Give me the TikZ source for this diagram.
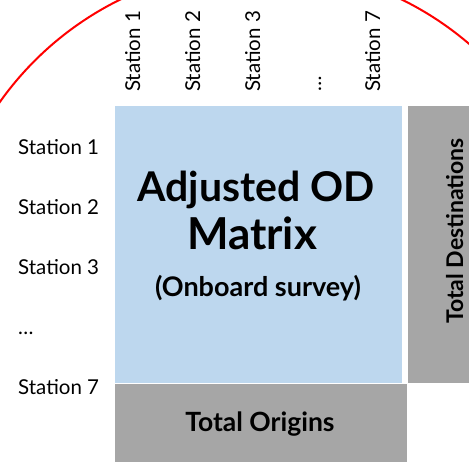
\documentclass[tikz,border=0pt]{standalone}
\usepackage{fontspec}
\setmainfont{Lato}
\definecolor{matrixblue}{HTML}{BDD7EE}
\definecolor{totalgray}{HTML}{A6A6A6}
\definecolor{arcred}{HTML}{FF0000}
\begin{document}
\begin{tikzpicture}[x=1pt,y=-1pt,
  box/.style={anchor=north west,inner sep=0pt,outer sep=0pt},
  rowlabel/.style={anchor=base west,inner sep=0pt,font=\fontsize{20.5}{24}\selectfont},
  collabel/.style={anchor=base west,rotate=90,inner sep=0pt,font=\fontsize{20.5}{24}\selectfont},
  titlelabel/.style={anchor=base,inner sep=0pt,font=\fontsize{41}{48}\selectfont\bfseries}]
\useasboundingbox (0,0) rectangle (469,462);
\begin{scope}
\clip (0,0) rectangle (469,462);
% highlight arc behind the table
\draw[arcred,line width=2pt] (261,287) circle (320);
% table blocks
\node[box,fill=matrixblue,minimum width=287pt,minimum height=277pt] (matrix) at (115,106) {};
\node[box,fill=totalgray,minimum width=292pt,minimum height=80pt] (origins) at (115,384) {};
\node[box,fill=totalgray,minimum width=70pt,minimum height=277pt] (dests) at (408,106) {};
\end{scope}
% matrix title
\node[titlelabel] (title1) at (256,202) {Adjusted OD};
\node[titlelabel,font=\fontsize{44}{48}\selectfont\bfseries] (title2) at (252,250) {Matrix};
\node[anchor=base,inner sep=0pt,font=\fontsize{27}{32}\selectfont\bfseries] (subtitle) at (258,297) {(Onboard survey)};
% totals
\node[anchor=base,inner sep=0pt,font=\fontsize{26.5}{30}\selectfont\bfseries] (origlabel) at (260,432) {Total Origins};
\node[anchor=base,rotate=90,inner sep=0pt,font=\fontsize{23}{27}\selectfont\bfseries] (destlabel) at (463,231) {Total Destinations};
% row labels
\node[rowlabel] (r1) at (18,155) {Station 1};
\node[rowlabel] (r2) at (18,215) {Station 2};
\node[rowlabel] (r3) at (18,275) {Station 3};
\node[rowlabel] (rdots) at (18,335) {\dots};
\node[rowlabel] (r7) at (18,395) {Station 7};
% column labels
\node[collabel] (c1) at (140,92) {Station 1};
\node[collabel] (c2) at (200,92) {Station 2};
\node[collabel] (c3) at (260,92) {Station 3};
\node[collabel] (cdots) at (321,92) {\dots};
\node[collabel] (c7) at (380,92) {Station 7};
\end{tikzpicture}
\end{document}
